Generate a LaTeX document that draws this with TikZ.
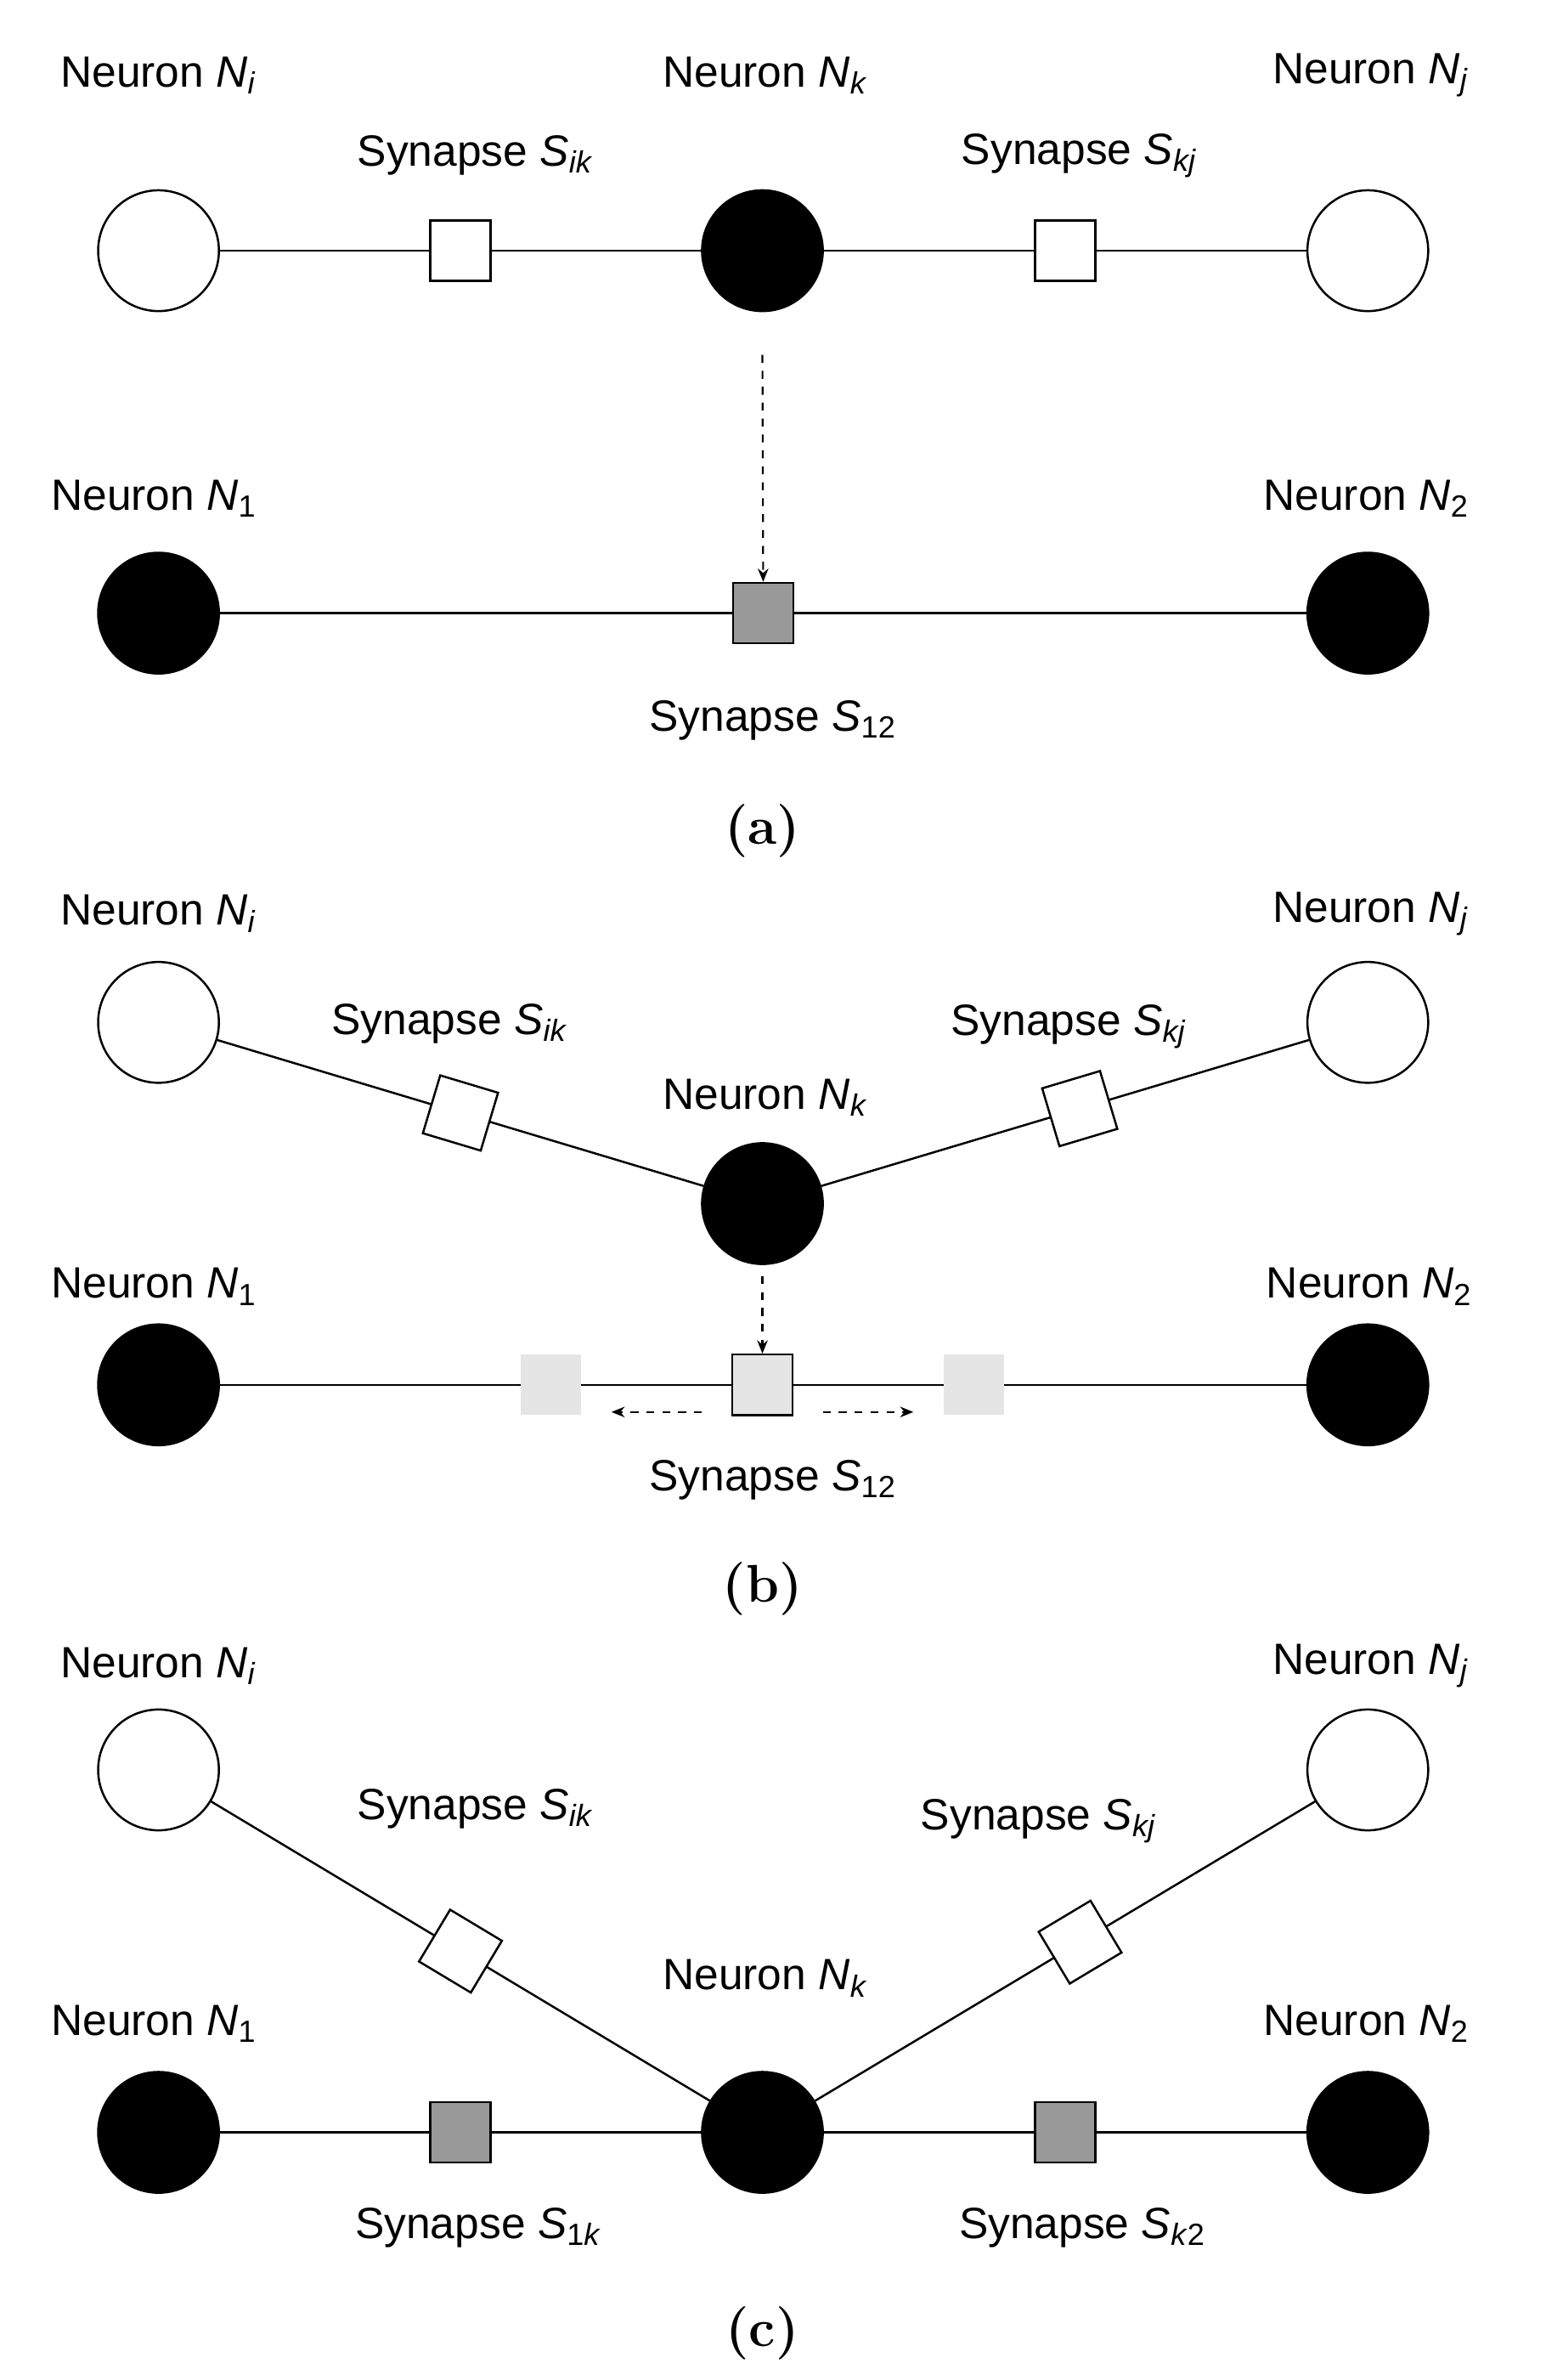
\documentclass[tikz,border=0pt]{standalone}
\usepackage{fontspec}
\setsansfont{Liberation Sans}
\renewcommand\familydefault{\sfdefault}
\usetikzlibrary{arrows.meta}
\newcommand\sub[1]{\textsubscript{#1}}
\begin{document}
\begin{tikzpicture}[x=0.02cm,y=-0.02cm,
  wn/.style={circle,draw,line width=0.8pt,fill=white,minimum size=80*0.02cm,inner sep=0},
  bn/.style={wn,fill=black},
  sq/.style={draw,line width=0.8pt,fill=white,minimum size=40*0.02cm,inner sep=0},
  gsq/.style={sq,fill=black!40},
  lsq/.style={sq,fill=black!10},
  ghost/.style={minimum size=40*0.02cm,inner sep=0,fill=black!10},
  lbl/.style={font=\fontsize{16.5}{20}\selectfont,inner sep=0},
  captxt/.style={font=\rmfamily\bfseries\fontsize{20}{24}\selectfont,inner sep=0},
  ln/.style={line width=0.8pt},
  da/.style={dashed,line width=0.7pt,-{Stealth[length=5pt,width=4pt]}}]
\useasboundingbox (0,0) rectangle (1024,1576);
% (a)
\node[wn] (aNi) at (105,166) {};
\node[bn] (aNk) at (505,166) {};
\node[wn] (aNj) at (906,166) {};
\draw[ln] (aNi) -- (aNk) node[sq,midway] (aSik) {};
\draw[ln] (aNk) -- (aNj) node[sq,midway] (aSkj) {};
\node[lbl] (aLi) at (105,50) {Neuron \textit{N}\sub{\textit{i}}};
\node[lbl] (aLk) at (507,50) {Neuron \textit{N}\sub{\textit{k}}};
\node[lbl] (aLj) at (908,50) {Neuron \textit{N}\sub{\textit{j}}};
\node[lbl] (aLik) at (315,103) {Synapse \textit{S}\sub{\textit{ik}}};
\node[lbl] (aLkj) at (715,103) {Synapse \textit{S}\sub{\textit{kj}}};
\node[bn] (aN1) at (105,406) {};
\node[bn] (aN2) at (906,406) {};
\draw[ln] (aN1) -- (aN2) node[gsq,midway] (aS12) {};
\coordinate (aA) at (505,235);
\draw[da] (aA) -- (aS12.north);
\node[lbl] (aL1) at (102,330) {Neuron \textit{N}\sub{1}};
\node[lbl] (aL2) at (905,330) {Neuron \textit{N}\sub{2}};
\node[lbl] (aL12) at (512,477) {Synapse \textit{S}\sub{12}};
\node[captxt] (ca) at (505,550) {(a)};
% (b)
\node[wn] (bNi) at (105,677) {};
\node[bn] (bNk) at (505,797) {};
\node[wn] (bNj) at (906,677) {};
\draw[ln] (bNi) -- (bNk) node[sq,sloped,midway] (bSik) {};
\draw[ln] (bNk) -- (bNj) node[sq,sloped,pos=0.53] (bSkj) {};
\node[lbl] (bLi) at (105,605) {Neuron \textit{N}\sub{\textit{i}}};
\node[lbl] (bLj) at (908,605) {Neuron \textit{N}\sub{\textit{j}}};
\node[lbl] (bLik) at (298,678) {Synapse \textit{S}\sub{\textit{ik}}};
\node[lbl] (bLkj) at (708,680) {Synapse \textit{S}\sub{\textit{kj}}};
\node[lbl] (bLk) at (507,727) {Neuron \textit{N}\sub{\textit{k}}};
\node[bn] (bN1) at (105,917) {};
\node[bn] (bN2) at (906,917) {};
\draw[ln] (bN1) -- (bN2);
\node[ghost] (bG1) at (365,917) {};
\node[ghost] (bG2) at (645,917) {};
\node[lsq] (bS12) at (505,917) {};
\coordinate (bA) at (505,845);
\draw[da] (bA) -- (bS12.north);
\coordinate (bL0) at (465,935); \coordinate (bL1) at (405,935);
\coordinate (bR0) at (545,935); \coordinate (bR1) at (605,935);
\draw[da] (bL0) -- (bL1);
\draw[da] (bR0) -- (bR1);
\node[lbl] (bL1t) at (102,852) {Neuron \textit{N}\sub{1}};
\node[lbl] (bL2t) at (907,852) {Neuron \textit{N}\sub{2}};
\node[lbl] (bL12) at (512,980) {Synapse \textit{S}\sub{12}};
\node[captxt] (cb) at (505,1052) {(b)};
% (c)
\node[wn] (cNi) at (105,1172) {};
\node[wn] (cNj) at (906,1172) {};
\node[bn] (cNk) at (505,1412) {};
\node[bn] (cN1) at (105,1412) {};
\node[bn] (cN2) at (906,1412) {};
\draw[ln] (cNi) -- (cNk) node[sq,sloped,midway] (cSik) {};
\draw[ln] (cNk) -- (cNj) node[sq,sloped,pos=0.53] (cSkj) {};
\draw[ln] (cN1) -- (cNk) node[gsq,midway] (cS1k) {};
\draw[ln] (cNk) -- (cN2) node[gsq,midway] (cSk2) {};
\node[lbl] (cLi) at (105,1103) {Neuron \textit{N}\sub{\textit{i}}};
\node[lbl] (cLj) at (908,1103) {Neuron \textit{N}\sub{\textit{j}}};
\node[lbl] (cLik) at (315,1198) {Synapse \textit{S}\sub{\textit{ik}}};
\node[lbl] (cLkj) at (688,1206) {Synapse \textit{S}\sub{\textit{kj}}};
\node[lbl] (cLk) at (507,1310) {Neuron \textit{N}\sub{\textit{k}}};
\node[lbl] (cL1) at (102,1340) {Neuron \textit{N}\sub{1}};
\node[lbl] (cL2) at (905,1340) {Neuron \textit{N}\sub{2}};
\node[lbl] (cL1k) at (317,1475) {Synapse \textit{S}\sub{1\textit{k}}};
\node[lbl] (cLk2) at (717,1475) {Synapse \textit{S}\sub{\textit{k}2}};
\node[captxt] (cc) at (505,1545) {(c)};
\end{tikzpicture}
\end{document}
